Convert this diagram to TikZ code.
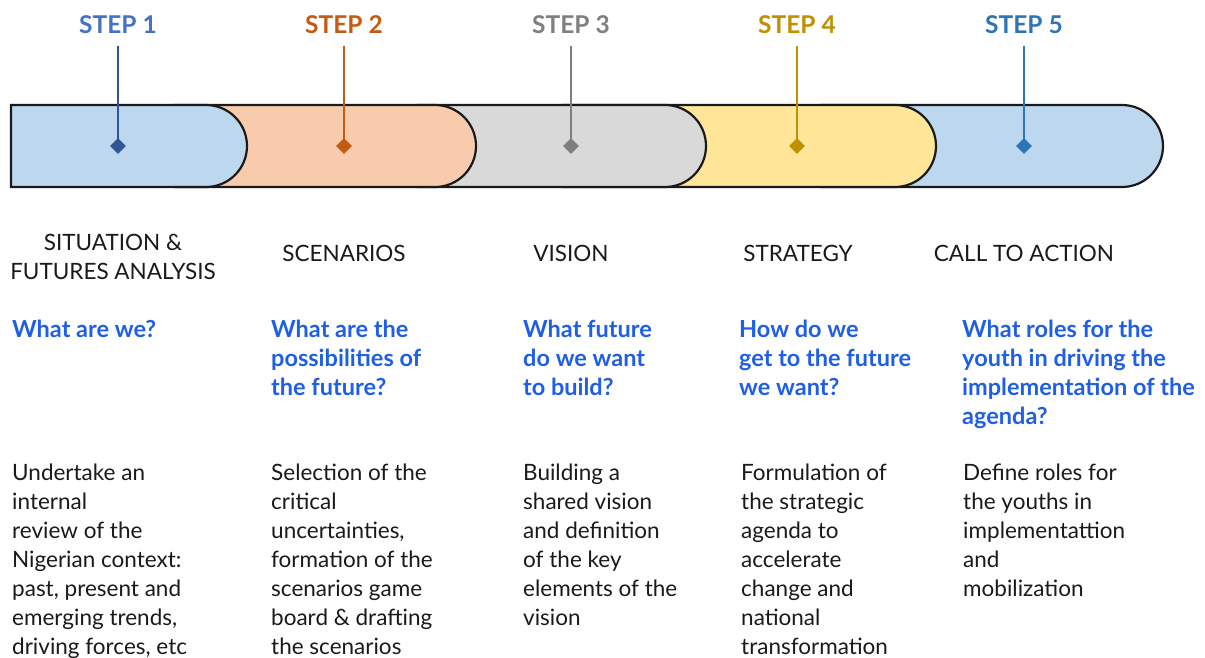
\documentclass[tikz,border=0pt]{standalone}
\usepackage{fontspec}
\setmainfont{Lato}
\usetikzlibrary{shapes.geometric}
\definecolor{fillblue}{HTML}{BDD7EE}
\definecolor{fillorange}{HTML}{F8CBAD}
\definecolor{fillgrey}{HTML}{D9D9D9}
\definecolor{fillyellow}{HTML}{FFE699}
\definecolor{stepone}{HTML}{2F5597}
\definecolor{steponetext}{HTML}{4472C4}
\definecolor{steptwo}{HTML}{C55A11}
\definecolor{stepthree}{HTML}{7F7F7F}
\definecolor{stepfour}{HTML}{BF9000}
\definecolor{stepfive}{HTML}{2E75B6}
\definecolor{askblue}{HTML}{1F5FE6}
\definecolor{ink}{HTML}{1A1A1A}
\def\pillseg[#1](#2:#3){\draw[#1] (#2,105) -- ({#3-41},105) arc[start angle=-90,end angle=90,radius=41] -- (#2,187) -- cycle;}

\begin{document}
\begin{tikzpicture}[x=1pt,y=-1pt,
    steplabel/.style={anchor=base, inner sep=0pt, font=\fontsize{24.5}{29}\selectfont\bfseries},
    pin/.style={diamond, inner sep=0pt, minimum size=16pt},
    phase/.style={anchor=base, align=center, inner sep=0pt, text=ink, font=\fontsize{22.5}{29}\selectfont},
    ask/.style={anchor=base west, align=left, inner sep=0pt, text=askblue, font=\fontsize{23.5}{29}\selectfont\bfseries},
    body/.style={anchor=base west, align=left, inner sep=0pt, text=ink, font=\fontsize{22.5}{29}\selectfont}]
			%%%%% START %%%%%
			\useasboundingbox (0,0) rectangle (1205,657);
			
			\pillseg[line width=2.2pt, fill=fillblue, draw=ink](822:1163)
			\pillseg[line width=2.2pt, fill=fillyellow, draw=ink](563:936)
			\pillseg[line width=2.2pt, fill=fillgrey, draw=ink](418:706)
			\pillseg[line width=2.2pt, fill=fillorange, draw=ink](175:476)
			\pillseg[line width=2.2pt, fill=fillblue, draw=ink](11:247)
			
			\node[pin, fill=stepone] (d1) at (118, 146) {};
			\node[pin, fill=steptwo] (d2) at (344, 146) {};
			\node[pin, fill=stepthree] (d3) at (571, 146) {};
			\node[pin, fill=stepfour] (d4) at (797, 146) {};
			\node[pin, fill=stepfive] (d5) at (1024, 146) {};
			
			\node[steplabel, text=steponetext] (s1) at (118, 33) {STEP 1};
			\node[steplabel, text=steptwo] (s2) at (344, 33) {STEP 2};
			\node[steplabel, text=stepthree] (s3) at (571, 33) {STEP 3};
			\node[steplabel, text=stepfour] (s4) at (797, 33) {STEP 4};
			\node[steplabel, text=stepfive] (s5) at (1024, 33) {STEP 5};
			
			\draw[line width=2pt, color=stepone] (s1.south) ++(0,13) -- (d1.center);
			\draw[line width=2pt, color=steptwo] (s2.south) ++(0,13) -- (d2.center);
			\draw[line width=2pt, color=stepthree] (s3.south) ++(0,13) -- (d3.center);
			\draw[line width=2pt, color=stepfour] (s4.south) ++(0,13) -- (d4.center);
			\draw[line width=2pt, color=stepfive] (s5.south) ++(0,13) -- (d5.center);
			
			% multi-line nodes sit on the baseline of their last line
			\node[phase] (p1) at (113, 279) {SITUATION \&\\FUTURES ANALYSIS};
			\node[phase] (p2) at (344, 261) {SCENARIOS};
			\node[phase] (p3) at (571, 261) {VISION};
			\node[phase] (p4) at (798, 261) {STRATEGY};
			\node[phase] (p5) at (1024, 261) {CALL TO ACTION};
			
			\node[ask] (q1) at (12, 337) {What are we?};
			\node[ask] (q2) at (271, 395) {What are the\\possibilities of\\the future?};
			\node[ask] (q3) at (523, 395) {What future\\do we want\\to build?};
			\node[ask] (q4) at (739, 395) {How do we\\get to the future\\we want?};
			\node[ask] (q5) at (962, 424) {What roles for the\\youth in driving the\\implementation of the\\agenda?};
			
			\node[body] (b1) at (12, 654) {Undertake an\\internal\\review of the\\Nigerian context:\\past, present and\\emerging trends,\\driving forces, etc};
			\node[body] (b2) at (271, 654) {Selection of the\\critical\\uncertainties,\\formation of the\\scenarios game\\board \& drafting\\the scenarios};
			\node[body] (b3) at (523, 625) {Building a\\shared vision\\and definition\\of the key\\elements of the\\vision};
			\node[body] (b4) at (741, 654) {Formulation of\\the strategic\\agenda to\\accelerate\\change and\\national\\transformation};
			\node[body] (b5) at (963, 596) {Define roles for\\the youths in\\implementattion\\and\\mobilization};
			
			%%%%% END %%%%%
\end{tikzpicture}
\end{document}
